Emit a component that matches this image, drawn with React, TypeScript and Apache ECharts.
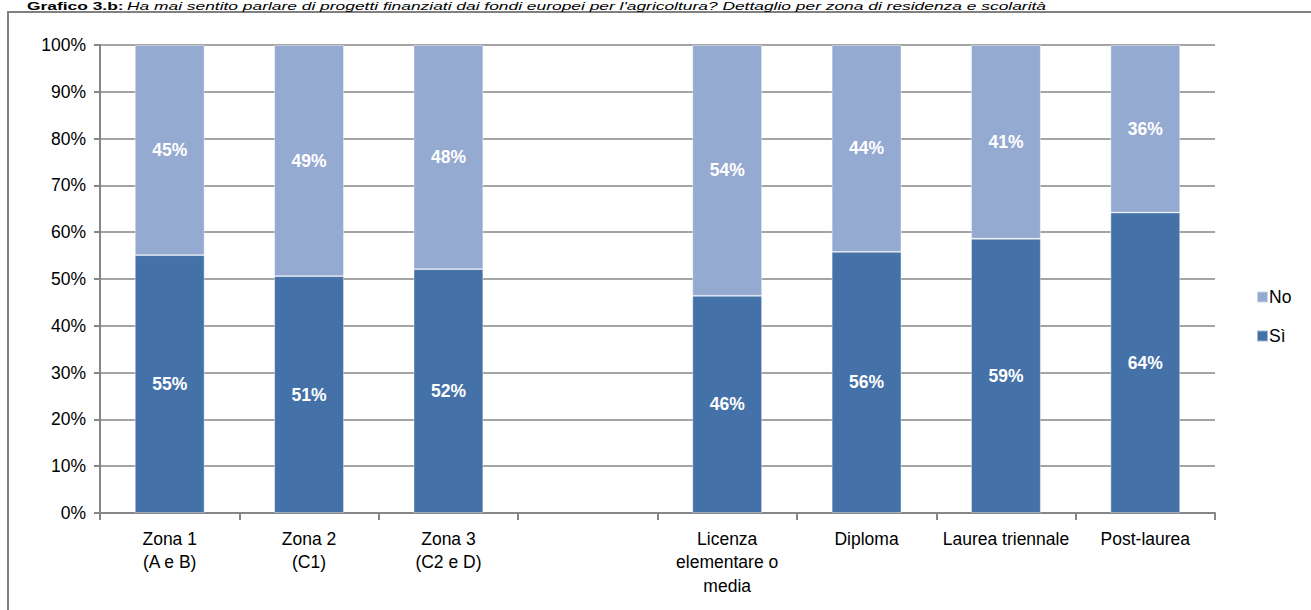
import React, { useEffect, useRef } from "react";
import * as echarts from "echarts";

const categories = [
  "Zona 1\n(A e B)",
  "Zona 2\n(C1)",
  "Zona 3\n(C2 e D)",
  "",
  "Licenza\nelementare o\nmedia",
  "Diploma",
  "Laurea triennale",
  "Post-laurea",
];
const siValues: (number | string)[] = [55.1, 50.6, 52.1, "-", 46.4, 55.8, 58.6, 64.2];
const noValues: (number | string)[] = [44.9, 49.4, 47.9, "-", 53.6, 44.2, 41.4, 35.8];
const yTicks = [0, 10, 20, 30, 40, 50, 60, 70, 80, 90, 100];
const titleBold = "Grafico 3.b:";
const titleItalic =
  "Ha mai sentito parlare di progetti finanziati dai fondi europei per l'agricoltura? Dettaglio per zona di residenza e scolarità";

const FONT = "'Liberation Sans', Arial, sans-serif";
const DARK = "#4472A8";
const LIGHT = "#95AAD1";
const AXIS = "#868686";
const FS = 17.5;

export default function App() {
  const ref = useRef<HTMLDivElement>(null);
  useEffect(() => {
    if (!ref.current) return;
    const chart = echarts.init(ref.current, undefined, { renderer: "svg" });
    const label = {
      show: true,
      position: "inside" as const,
      color: "#fff",
      fontWeight: "bold" as const,
      fontSize: FS,
      fontFamily: FONT,
      formatter: (p: any) => Math.round(p.value) + "%",
    };
    chart.setOption({
      animation: false,
      textStyle: { fontFamily: FONT },
      graphic: [
        {
          type: "rect",
          shape: { x: 8, y: 12, width: 1340, height: 640 },
          style: { fill: "none", stroke: "#808080", lineWidth: 2 },
          silent: true,
        },
        {
          type: "text",
          x: 27,
          y: 0,
          scaleY: 0.68,
          style: {
            text: "{b|" + titleBold + "} {i|" + titleItalic + "}",
            verticalAlign: "top",
            rich: {
              b: { fontFamily: FONT, fontWeight: "bold", fontSize: 17.4, fill: "#000" },
              i: { fontFamily: FONT, fontStyle: "italic", fontSize: 17.4, fill: "#000" },
            },
          },
        },
      ],
      legend: {
        data: ["No", "Sì"],
        orient: "vertical",
        left: 1251,
        top: 283,
        itemWidth: 11,
        itemHeight: 11,
        itemGap: 21,
        icon: "rect",
        textStyle: { fontFamily: FONT, fontSize: FS, color: "#000", padding: [0, 0, 0, -4] },
      },
      grid: { left: 100, right: 96, top: 45, bottom: 97 },
      xAxis: {
        type: "category",
        data: categories,
        axisLine: { lineStyle: { color: AXIS, width: 2 } },
        axisTick: { show: true, length: 7, lineStyle: { color: AXIS, width: 2 } },
        axisLabel: {
          color: "#000",
          fontSize: FS,
          fontFamily: FONT,
          lineHeight: 23.5,
          interval: 0,
          margin: 14,
        },
      },
      yAxis: {
        type: "value",
        min: yTicks[0],
        max: yTicks[yTicks.length - 1],
        interval: 10,
        axisLine: { show: true, lineStyle: { color: AXIS, width: 2 } },
        axisTick: { show: true, length: 6, lineStyle: { color: AXIS, width: 2 } },
        splitLine: { lineStyle: { color: AXIS, width: 1.5 } },
        axisLabel: {
          color: "#000",
          fontSize: FS,
          fontFamily: FONT,
          margin: 14,
          formatter: "{value}%",
        },
      },
      series: [
        {
          name: "Sì",
          type: "bar",
          stack: "tot",
          data: siValues,
          barWidth: "50%",
          itemStyle: { color: DARK, borderColor: "rgba(255,255,255,0.5)", borderWidth: 0.8 },
          label,
        },
        {
          name: "No",
          type: "bar",
          stack: "tot",
          data: noValues,
          barWidth: "50%",
          itemStyle: { color: LIGHT, borderColor: "rgba(255,255,255,0.5)", borderWidth: 0.8 },
          label,
        },
      ],
    });
    return () => chart.dispose();
  }, []);
  return (
    <div
      ref={ref}
      style={{ position: "fixed", left: 0, top: 0, width: 1311, height: 610, background: "#fff" }}
    />
  );
}
